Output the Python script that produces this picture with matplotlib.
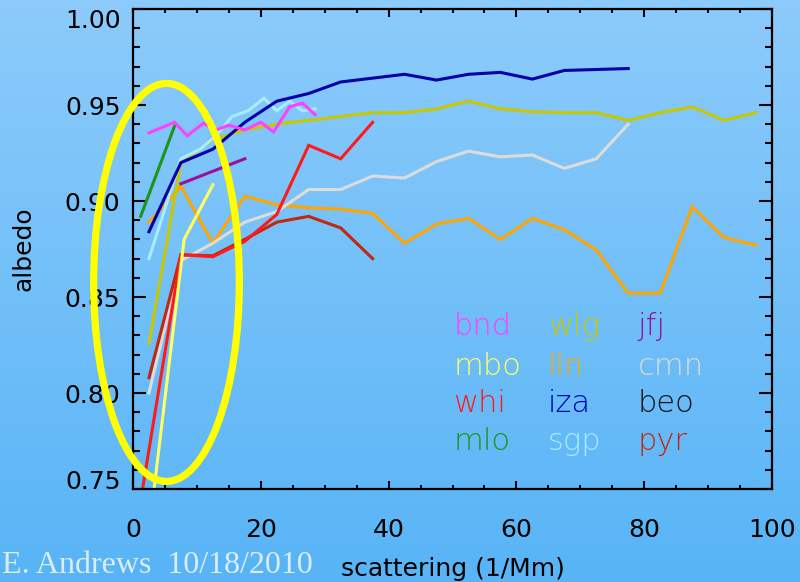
# Import NumPy for the background gradient
import numpy as np

# Import Matplotlib for drawing the chart
import matplotlib
matplotlib.use("Agg")
import matplotlib.pyplot as plt
from matplotlib.patches import Ellipse


# Station names in legend order (three columns, four rows)
stations = ["bnd", "mbo", "whi", "mlo",
            "wlg", "lln", "iza", "sgp",
            "jfj", "cmn", "beo", "pyr"]

# Colours used for each station
station_colors = {
    "bnd": "#ff40ff", "mbo": "#ffff66", "whi": "#ff1a1a", "mlo": "#1a961a",
    "wlg": "#c8c800", "lln": "#ffa500", "iza": "#0000a8", "sgp": "#a8ecff",
    "jfj": "#9a109a", "cmn": "#dcdcdc", "beo": "#111111", "pyr": "#c02810",
}

# Scattering bins (1/Mm) and albedo values
bnd_x = [2.5, 6.5, 8.5, 11.0, 13.0, 15.0, 17.5, 20.0, 22.0, 24.5, 26.5, 28.5]
bnd_y = [0.9355, 0.941, 0.934, 0.9405, 0.937, 0.9395, 0.937, 0.941, 0.936, 0.949, 0.951, 0.945]

mbo_x = [2.5, 8.0, 12.5]
mbo_y = [0.728, 0.880, 0.9085]

whi_x = [1.0, 7.5, 12.5, 17.5, 22.5, 27.5, 32.5, 37.5]
whi_y = [0.740, 0.872, 0.871, 0.879, 0.893, 0.929, 0.922, 0.941]

mlo_x = [1.2, 6.5]
mlo_y = [0.892, 0.939]

wlg_x = [2.5, 7.5, 12.5, 17.5, 22.5, 27.5, 32.5, 37.5, 42.5, 47.5,
         52.5, 57.5, 62.5, 67.5, 72.5, 77.5, 82.5, 87.5, 92.5, 97.5]
wlg_y = [0.826, 0.920, 0.932, 0.937, 0.940, 0.942, 0.944, 0.946, 0.946, 0.948,
         0.952, 0.948, 0.9465, 0.946, 0.946, 0.942, 0.946, 0.949, 0.942, 0.946]

lln_x = [2.5, 7.5, 12.5, 17.5, 22.5, 27.5, 32.5, 37.5, 42.5, 47.5,
         52.5, 57.5, 62.5, 67.5, 72.5, 77.5, 82.5, 87.5, 92.5, 97.5]
lln_y = [0.889, 0.9075, 0.878, 0.9025, 0.898, 0.8965, 0.8958, 0.8935, 0.878, 0.888,
         0.891, 0.880, 0.891, 0.885, 0.8745, 0.852, 0.852, 0.897, 0.881, 0.877]

iza_x = [2.5, 7.5, 12.5, 17.5, 22.5, 27.5, 32.5, 37.5,
         42.5, 47.5, 52.5, 57.5, 62.5, 67.5, 72.5, 77.5]
iza_y = [0.884, 0.920, 0.927, 0.941, 0.952, 0.956, 0.962, 0.964,
         0.966, 0.963, 0.966, 0.967, 0.9635, 0.968, 0.9685, 0.969]

sgp_x = [2.5, 7.5, 10.5, 13.0, 15.5, 18.0, 20.5, 22.5, 24.5, 26.5, 28.5]
sgp_y = [0.870, 0.922, 0.927, 0.934, 0.944, 0.947, 0.9535, 0.947, 0.952, 0.947, 0.948]

jfj_x = [7.5, 12.5, 17.5]
jfj_y = [0.909, 0.9155, 0.922]

cmn_x = [2.5, 7.5, 12.5, 17.5, 22.5, 27.5, 32.5, 37.5,
         42.5, 47.5, 52.5, 57.5, 62.5, 67.5, 72.5, 77.5]
cmn_y = [0.800, 0.869, 0.878, 0.889, 0.8945, 0.906, 0.906, 0.913,
         0.912, 0.9205, 0.926, 0.923, 0.924, 0.917, 0.922, 0.940]

pyr_x = [2.5, 7.5, 12.5, 17.5, 22.5, 27.5, 32.5, 37.5]
pyr_y = [0.808, 0.872, 0.8715, 0.880, 0.889, 0.892, 0.886, 0.870]

# Drawing order of the lines (later ones sit on top)
series = [
    ("lln", lln_x, lln_y), ("cmn", cmn_x, cmn_y), ("pyr", pyr_x, pyr_y),
    ("whi", whi_x, whi_y), ("mbo", mbo_x, mbo_y), ("wlg", wlg_x, wlg_y),
    ("jfj", jfj_x, jfj_y), ("mlo", mlo_x, mlo_y), ("sgp", sgp_x, sgp_y),
    ("iza", iza_x, iza_y), ("bnd", bnd_x, bnd_y),
]

# Axis ticks
x_ticks = [0, 20, 40, 60, 80, 100]
y_ticks = [0.75, 0.80, 0.85, 0.90, 0.95, 1.00]


# Create the figure at 800x582 pixels
fig = plt.figure(figsize=(8, 5.82), dpi=100)

# Light blue slide background as a vertical gradient
bg = fig.add_axes([0, 0, 1, 1], zorder=-10)
top_rgb = np.array([140, 203, 251]) / 255
bot_rgb = np.array([88, 180, 246]) / 255
t = np.linspace(0, 1, 256)[:, None]
grad = top_rgb * (1 - t) + bot_rgb * t
bg.imshow(grad[:, None, :], aspect="auto", extent=[0, 1, 0, 1])
bg.axis("off")

# Main plot area
ax = fig.add_axes([0.16625, 0.1598, 0.79875, 0.8247])
ax.set_facecolor("none")

# Draw every station line
for name, xs, ys in series:
    ax.plot(xs, ys, color=station_colors[name], lw=2.2, solid_joinstyle="miter")

# Axis limits and ticks
ax.set_xlim(0, 100)
ax.set_ylim(0.75, 1.00)
ax.set_xticks(x_ticks)
ax.set_xticklabels([str(v) for v in x_ticks])
ax.set_yticks(y_ticks)
ax.set_yticklabels(["%.2f" % v for v in y_ticks])
ax.set_xticks(np.arange(5, 100, 5), minor=True)
ax.set_yticks(np.arange(0.76, 1.0, 0.01), minor=True)

# Inward ticks on all four sides, like the IDL plot
ax.tick_params(which="both", direction="in", top=True, right=True,
               color="black", width=1.5, labelsize=18)
ax.tick_params(axis="y", which="major", length=9.5, pad=9)
ax.tick_params(axis="y", which="minor", length=5)
ax.tick_params(axis="x", which="major", length=6, pad=21)
ax.tick_params(axis="x", which="minor", length=3)
for spine in ax.spines.values():
    spine.set_linewidth(1.6)

# Nudge the end labels of the y axis inside the frame
y_major = ax.yaxis.get_major_ticks()
y_major[0].label1.set_va("baseline")
y_major[-1].label1.set_va("top")

# Axis labels
ax.set_xlabel("scattering (1/Mm)", fontsize=18)
ax.xaxis.set_label_coords(0.5, -0.142)
ax.set_ylabel("albedo", fontsize=18)
ax.yaxis.set_label_coords(-0.152, 0.5)

# Coloured station names used as the legend
legend_cols = [50.1, 64.9, 79.0]
legend_rows = [0.8302, 0.8094, 0.7901, 0.7703]
for i, name in enumerate(stations):
    ax.text(legend_cols[i // 4], legend_rows[i % 4], name,
            color=station_colors[name], fontsize=22, fontweight="light",
            ha="left", va="baseline")

# Yellow ellipse that highlights the low-scattering region
ring = Ellipse((5.24, 0.8576), 22.8, 0.2073, fill=False,
               edgecolor="#ffff00", lw=5.2, clip_on=False, zorder=5)
ax.add_patch(ring)

# Author and date in the bottom left corner
fig.text(0.003, 0.0155, "E. Andrews  10/18/2010", family="Liberation Serif",
         fontsize=23, color="#d9edfb", ha="left", va="baseline")

# Save the figure
fig.savefig("out.png", dpi=100)
